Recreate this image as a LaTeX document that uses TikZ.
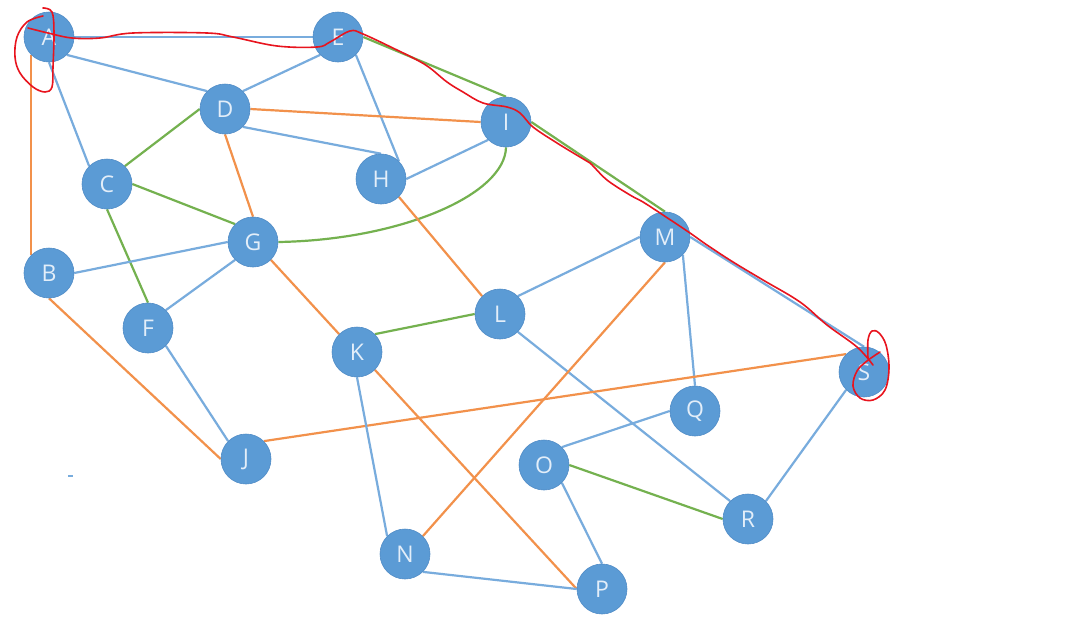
\documentclass[tikz,border=0pt]{standalone}
\usepackage{fontspec}
\setmainfont{Open Sans}
\definecolor{nodefill}{HTML}{5B9BD5}
\definecolor{nodeedge}{HTML}{4F8BC6}
\definecolor{nodetext}{HTML}{E3EEF9}
\definecolor{eblue}{HTML}{78ACDD}
\definecolor{eorange}{HTML}{F2914B}
\definecolor{egreen}{HTML}{74B14F}
\definecolor{redpen}{HTML}{E8141E}
\pgfdeclarelayer{paper}
\pgfdeclarelayer{bg}
\pgfsetlayers{paper,bg,main}
\tikzset{
  vtx/.style={circle,minimum size=50pt,inner sep=0pt,fill=nodefill,draw=nodeedge,line width=0.6pt,
    text=nodetext,font=\fontsize{23}{23}\selectfont},
  eb/.style={draw=eblue,line width=2.2pt},
  eo/.style={draw=eorange,line width=2.2pt},
  eg/.style={draw=egreen,line width=2.2pt},
  pen/.style={draw=redpen,line width=1.6pt,line cap=round,line join=round}
}
\begin{document}
\begin{tikzpicture}[x=1pt,y=-1pt]
\begin{pgfonlayer}{paper}
\fill[white] (0,0) rectangle (1082,627);
\end{pgfonlayer}
\useasboundingbox (0,0) rectangle (1082,627);
\node[vtx] (A) at (49,37) {A};
\node[vtx] (E) at (338,37) {E};
\node[vtx] (D) at (225,109) {D};
\node[vtx] (I) at (506,122) {I};
\node[vtx] (C) at (107,184) {C};
\node[vtx] (H) at (381,179) {H};
\node[vtx] (G) at (253,242) {G};
\node[vtx] (M) at (665,237) {M};
\node[vtx] (B) at (49,273) {B};
\node[vtx] (L) at (500,314) {L};
\node[vtx] (F) at (148,328) {F};
\node[vtx] (K) at (357,352) {K};
\node[vtx] (S) at (864,372) {S};
\node[vtx] (Q) at (695,411) {Q};
\node[vtx] (J) at (246,459) {J};
\node[vtx] (O) at (544,465) {O};
\node[vtx] (R) at (748,519) {R};
\node[vtx] (N) at (405,554) {N};
\node[vtx] (P) at (602,589) {P};
\begin{pgfonlayer}{bg}
\draw[eb] (A.east) -- (E.west);
\draw[eb] (A.south east) -- (D.north west);
\draw[eb] (A.south) -- (C.north west);
\draw[eo] (A.south west) -- (B.north west);
\draw[eb] (E.south west) -- (D.north east);
\draw[eb] (E.south east) -- (H.north east);
\draw[eg] (E.east) -- (I.north);
\draw[eg] (I.east) -- (M.north);
\draw[eo] (D.east) -- (I.west);
\draw[eb] (D.south east) -- (H.north);
\draw[eo] (D.south) -- (G.north);
\draw[eb] (I.south west) -- (H.east);
\draw[eg] (I.south) .. controls (505,195) and (400,240) .. (G.east);
\draw[eg] (C.north east) -- (D.west);
\draw[eg] (C.east) -- (G.north west);
\draw[eg] (C.south) -- (F.north);
\draw[eb] (B.east) -- (G.west);
\draw[eb] (G.south west) -- (F.north east);
\draw[eo] (G.south east) -- (K.north west);
\draw[eo] (H.south east) -- (L.north west);
\draw[eb] (M.west) -- (L.north east);
\draw[eg] (K.north east) -- (L.west);
\draw[eb] (L.south east) -- (R.north west);
\draw[eb] (M.south east) -- (Q.north);
\draw[eb] (M.east) -- (S.north);
\draw[eo] (M.south) -- (N.north east);
\draw[eo] (S.north west) -- (J.north east);
\draw[eo] (B.south) -- (J.west);
\draw[eb] (F.south east) -- (J.north west);
\draw[eb] (S.south west) -- (R.north east);
\draw[eb] (Q.west) -- (O.north east);
\draw[eg] (O.east) -- (R.west);
\draw[eb] (O.south east) -- (P.north);
\draw[eb] (K.south) -- (N.north west);
\draw[eo] (K.south east) -- (P.west);
\draw[eb] (N.south east) -- (P.west);
\coordinate (dotL) at (68,476);
\coordinate (dotR) at (73,476);
\draw[eblue,line width=1.2pt] (dotL) -- (dotR);
\end{pgfonlayer}
% red hand-drawn annotation
\draw[pen] plot[smooth,tension=0.6] coordinates {(28,28) (48,33) (72,38) (100,38) (133,33) (207,33) (233,37) (277,46) (317,47) (330,42) (350,31) (363,34) (397,50) (417,60) (430,68) (447,82) (463,92) (483,103) (507,107) (520,113) (533,127) (557,143) (580,157) (590,163) (607,180) (630,195) (643,202) (663,215) (690,233) (707,245) (733,262) (763,280) (800,302) (827,325) (857,347) (873,365)};
\draw[pen] plot[smooth,tension=0.6] coordinates {(43,8) (52,12) (54,33) (53,67) (52,87) (45,92) (33,87) (20,73) (15,57) (17,37) (27,22) (43,16)};
\draw[pen] plot[smooth,tension=0.6] coordinates {(868,358) (868,340) (872,331) (879,333) (886,345) (889,368) (885,390) (873,400) (860,398) (853,386) (857,371) (867,361) (880,352)};
\end{tikzpicture}
\end{document}
